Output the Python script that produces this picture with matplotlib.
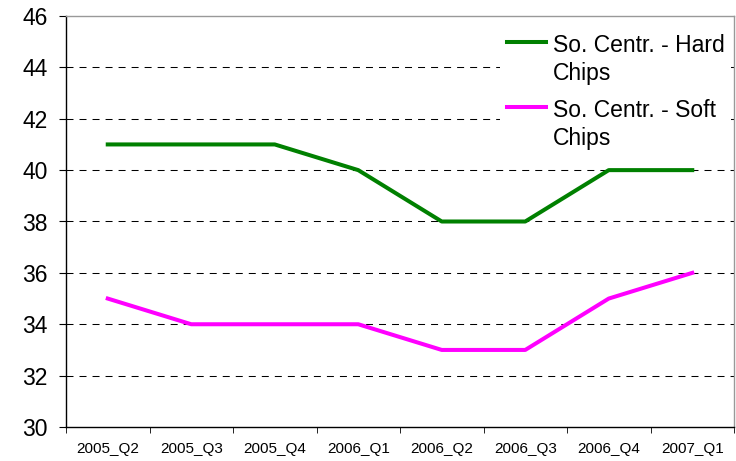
import matplotlib
matplotlib.use("Agg")
import matplotlib.pyplot as plt
from matplotlib.legend_handler import HandlerLine2D

categories = ["2005_Q2", "2005_Q3", "2005_Q4", "2006_Q1", "2006_Q2", "2006_Q3", "2006_Q4", "2007_Q1"]
hard_chips = [41, 41, 41, 40, 38, 38, 40, 40]
soft_chips = [35, 34, 34, 34, 33, 33, 35, 36]
yticks = [30, 32, 34, 36, 38, 40, 42, 44, 46]

plt.rcParams['font.family'] = ['Liberation Sans', 'DejaVu Sans']
fig = plt.figure(figsize=(7.36, 4.61), dpi=100)
ax = fig.add_axes([66/736, 1 - 427/461, (734 - 66)/736, (427 - 16)/461])

x = list(range(len(categories)))
ax.plot(x, hard_chips, color="#008000", lw=2.9, label="So. Centr. - Hard\nChips", zorder=3)
ax.plot(x, soft_chips, color="#FF00FF", lw=2.9, label="So. Centr. - Soft\nChips", zorder=3)

ax.set_xlim(-0.5, len(categories) - 0.5)
ax.set_ylim(30, 46)
ax.set_yticks(yticks)
ax.set_yticklabels([str(v) for v in yticks], fontsize=16.5)
ax.set_xticks(x)
ax.set_xticklabels(categories, fontsize=11)
ax.set_xticks([i - 0.5 for i in range(len(categories) + 1)], minor=True)
ax.tick_params(axis='x', which='major', length=0, pad=11)
ax.tick_params(axis='x', which='minor', length=4, direction='out', color='black')
ax.tick_params(axis='y', length=5, direction='out', pad=8)

for v in yticks[1:-1]:
    ax.axhline(v, color='black', lw=0.75, ls=(0, (6.7, 5.8)), zorder=1)

for s in ['left', 'bottom']:
    ax.spines[s].set_color('black')
    ax.spines[s].set_linewidth(1.0)
for s in ['top', 'right']:
    ax.spines[s].set_color('#999999')
    ax.spines[s].set_linewidth(1.0)


class TopLineHandler(HandlerLine2D):
    def create_artists(self, legend, orig_handle, xdescent, ydescent, width, height, fontsize, trans):
        artists = super().create_artists(legend, orig_handle, xdescent, ydescent, width, height, fontsize, trans)
        for a in artists:
            yd = a.get_ydata()
            a.set_ydata([height * 1.62 for _ in yd])
        return artists


leg = ax.legend(loc='upper left', bbox_to_anchor=(500/736, 1 - 27/461), bbox_transform=fig.transFigure,
                fontsize=16.5, frameon=True, fancybox=False, handlelength=1.7, handletextpad=0.3,
                labelspacing=0.62, borderpad=0.3, borderaxespad=0,
                handler_map={plt.Line2D: TopLineHandler()})
for t in leg.get_texts():
    t.set_linespacing(1.27)
leg.get_frame().set_edgecolor('none')
leg.get_frame().set_facecolor('white')
leg.get_frame().set_alpha(1)

fig.savefig("out.png", dpi=100)
